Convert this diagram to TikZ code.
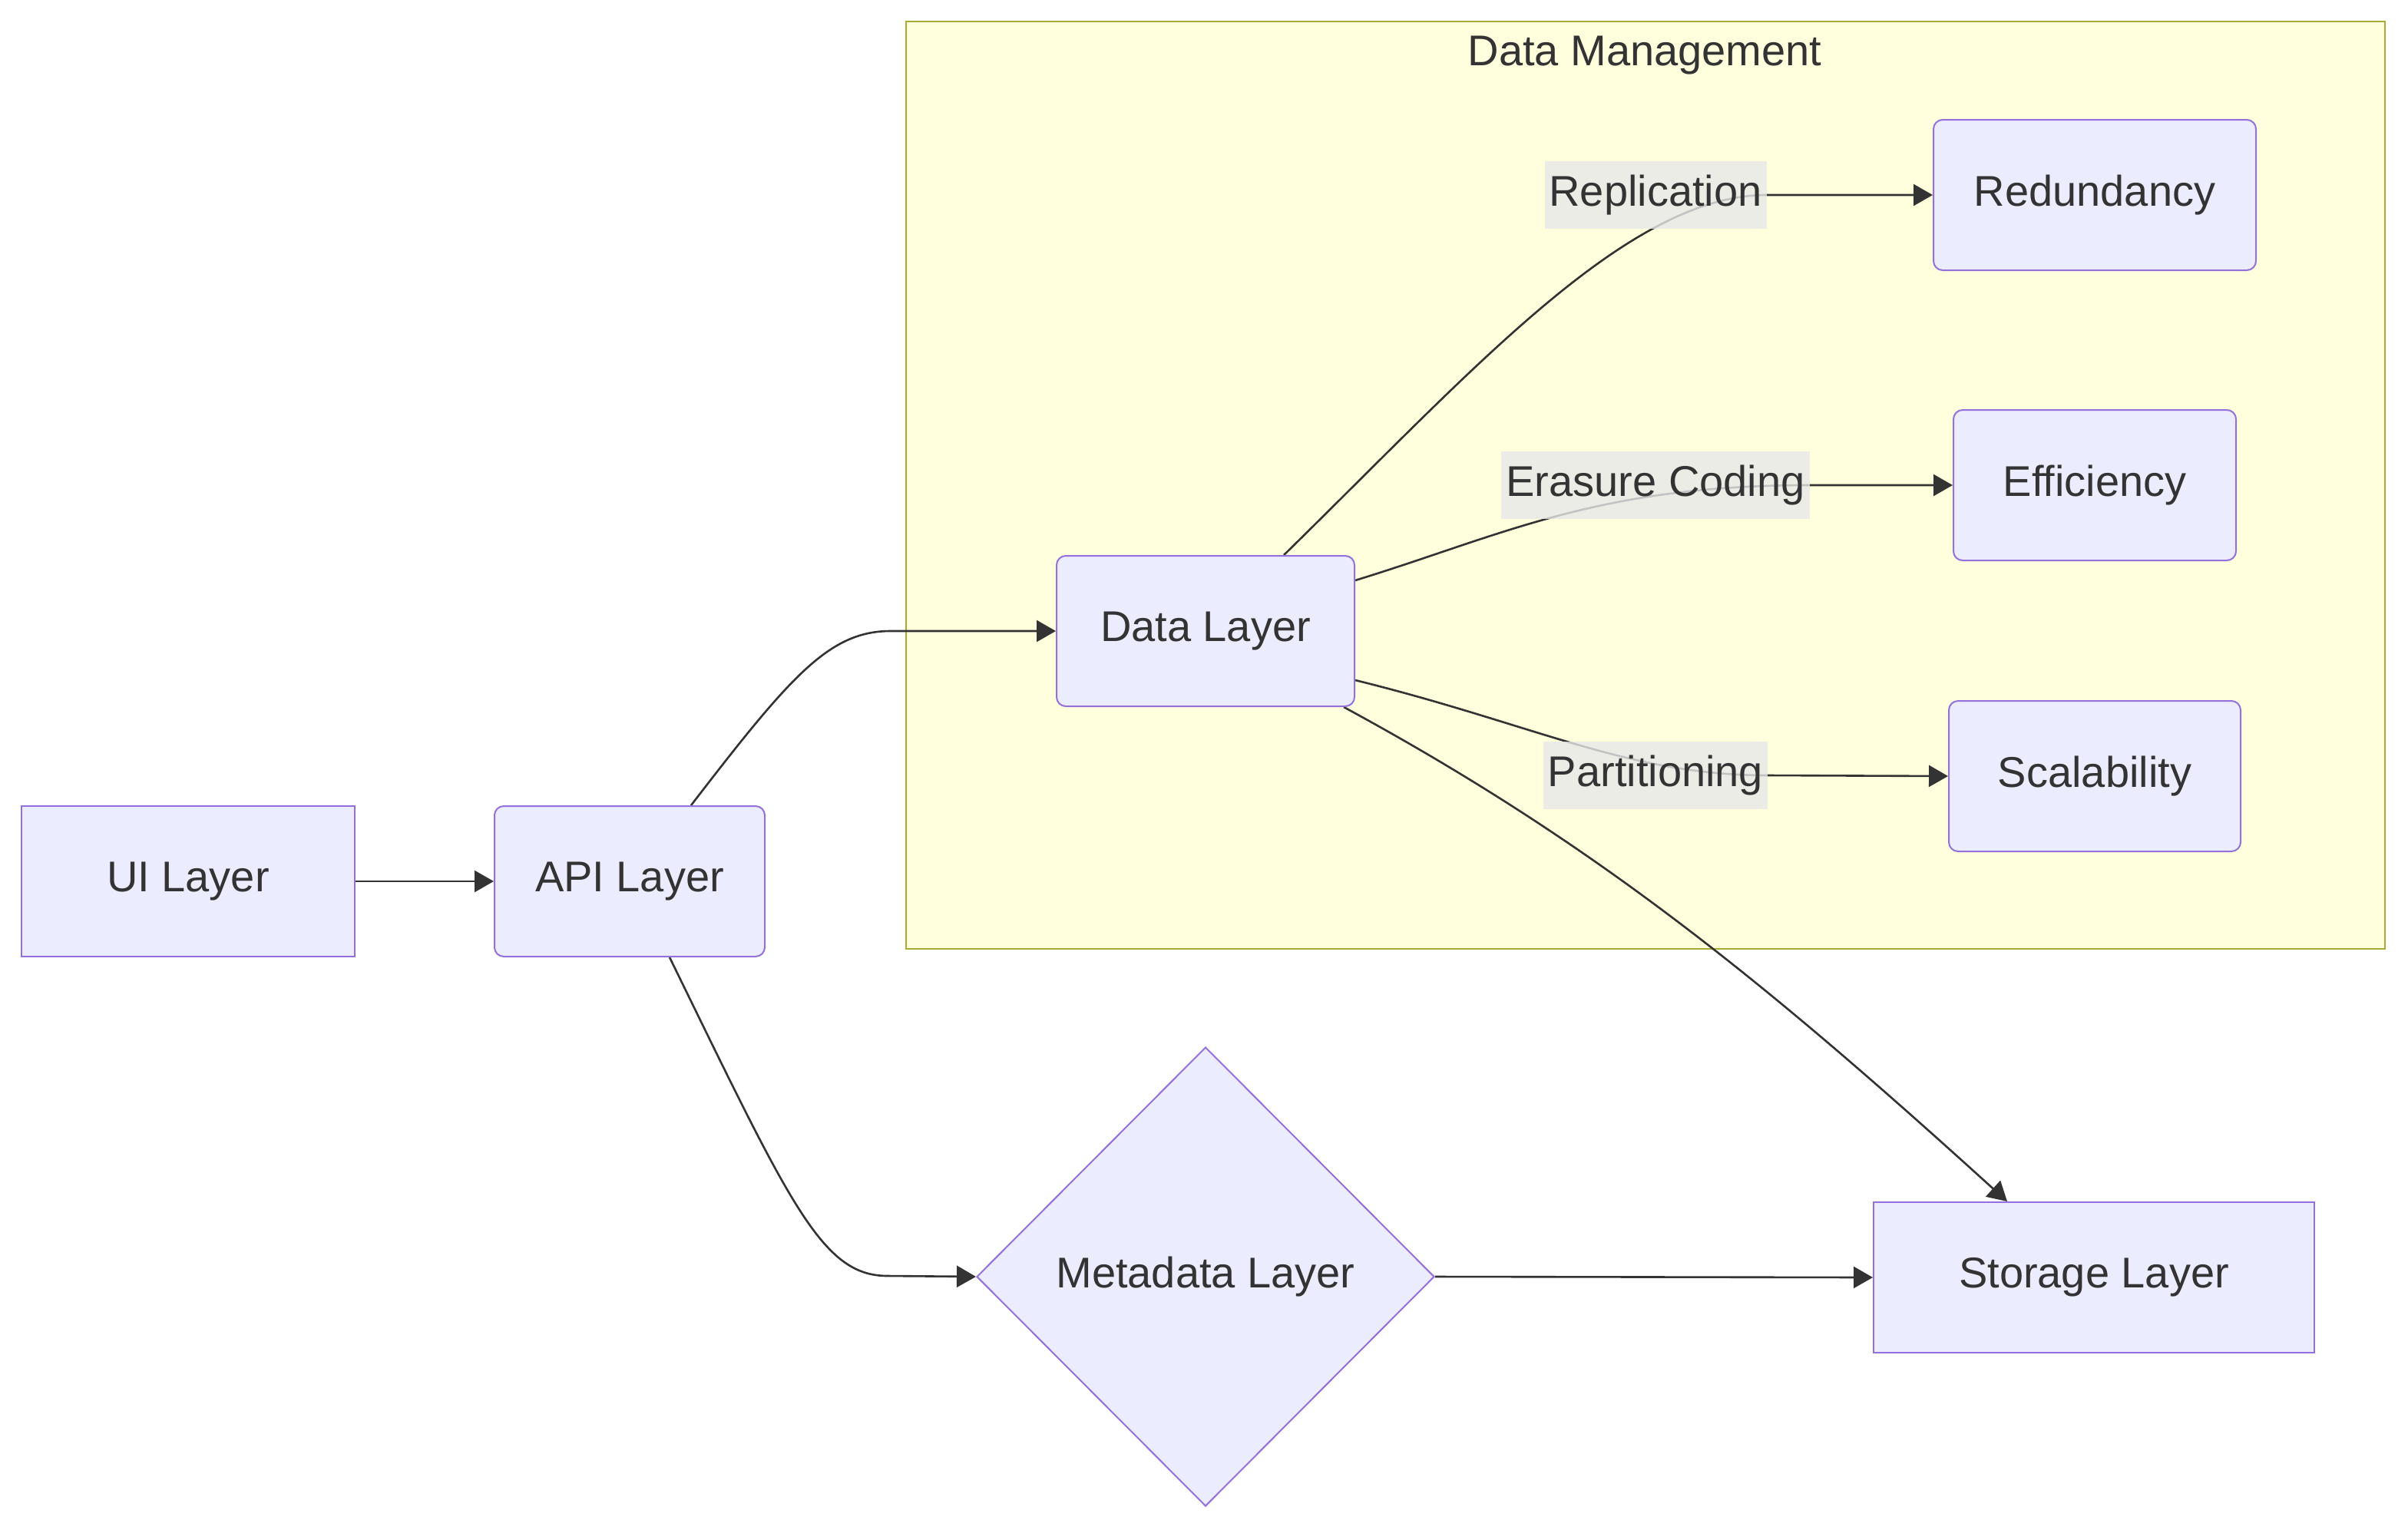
\documentclass[tikz,border=0pt]{standalone}
\usepackage{fontspec}
\setmainfont{Liberation Sans}
\usetikzlibrary{arrows.meta,shapes.geometric}

\definecolor{nodefill}{HTML}{ECECFF}
\definecolor{nodeline}{HTML}{9370DB}
\definecolor{clusterfill}{HTML}{FFFFDE}
\definecolor{clusterline}{HTML}{AAAA33}
\definecolor{inkgrey}{HTML}{333333}
\definecolor{labelfill}{HTML}{E8E8E8}

\pgfdeclarelayer{bg}
\pgfdeclarelayer{edges}
\pgfsetlayers{bg,edges,main}

\tikzset{
    bigtext/.style={font=\fontsize{28}{34}\selectfont, text=inkgrey},
    layer/.style={bigtext, draw=nodeline, fill=nodefill, line width=1pt, minimum height=98pt},
    roundlayer/.style={layer, rounded corners=6pt},
    decision/.style={layer, diamond, aspect=1, inner sep=0pt, minimum width=298pt, minimum height=299pt},
    edgelabel/.style={bigtext, fill=labelfill, fill opacity=0.8, text opacity=1, inner xsep=3pt, minimum height=44pt},
    flow/.style={draw=inkgrey, line width=1.3pt, -{Triangle[length=12.5pt,width=14pt]}},
}

\begin{document}
\begin{tikzpicture}[x=1pt, y=-1pt]
    \useasboundingbox (0,0) rectangle (1568,996);

    % Data Management group
    \begin{pgfonlayer}{bg}
        \draw[fill=clusterfill, draw=clusterline, line width=1pt] (590,14) rectangle (1553,618);
    \end{pgfonlayer}
    \node[bigtext] (dmtitle) at (1071,36) {Data Management};

    \node[layer, minimum width=217pt] (ui) at (122.5,574) {UI Layer};
    \node[roundlayer, minimum width=176pt] (api) at (410,574) {API Layer};
    \node[roundlayer, minimum width=194pt] (data) at (785,411) {Data Layer};
    \node[decision] (meta) at (785,831.5) {Metadata Layer};
    \node[layer, minimum width=287pt] (store) at (1363.5,832) {Storage Layer};

    \node[roundlayer, minimum width=210pt] (redund) at (1364,127) {Redundancy};
    \node[roundlayer, minimum width=184pt] (effic) at (1364,316) {Efficiency};
    \node[roundlayer, minimum width=190pt] (scale) at (1364,505.5) {Scalability};

    \node[edgelabel] (repl) at (1078,127) {Replication};
    \node[edgelabel] (erasure) at (1078,316) {Erasure Coding};
    \node[edgelabel] (parts) at (1078,505) {Partitioning};

    \begin{pgfonlayer}{edges}
        \draw[flow] (ui) -- (api);
        \draw[flow] ([xshift=40pt]api.north) .. controls (515,440) and (540,411) .. (580,411) -- (data.west);
        \draw[flow] ([xshift=26pt]api.south) .. controls (515,785) and (535,831) .. (578,831) -- (meta.west);

        \draw[flow] ([xshift=51pt]data.north) .. controls (960,240) and (1060,127) .. (repl.east) -- (redund.west);
        \draw[flow] ([yshift=33pt]data.east) .. controls (980,348) and (1040,316) .. (erasure.east) -- (effic.west);
        \draw[flow] ([yshift=-32pt]data.east) .. controls (1000,472) and (1060,505) .. (parts.east) -- (scale.west);
        \draw[flow] ([xshift=90pt]data.south) .. controls (1040,550) and (1150,640) .. ([xshift=-56.5pt]store.north);

        \draw[flow] (meta.east) -- (store.west);
    \end{pgfonlayer}
\end{tikzpicture}
\end{document}
